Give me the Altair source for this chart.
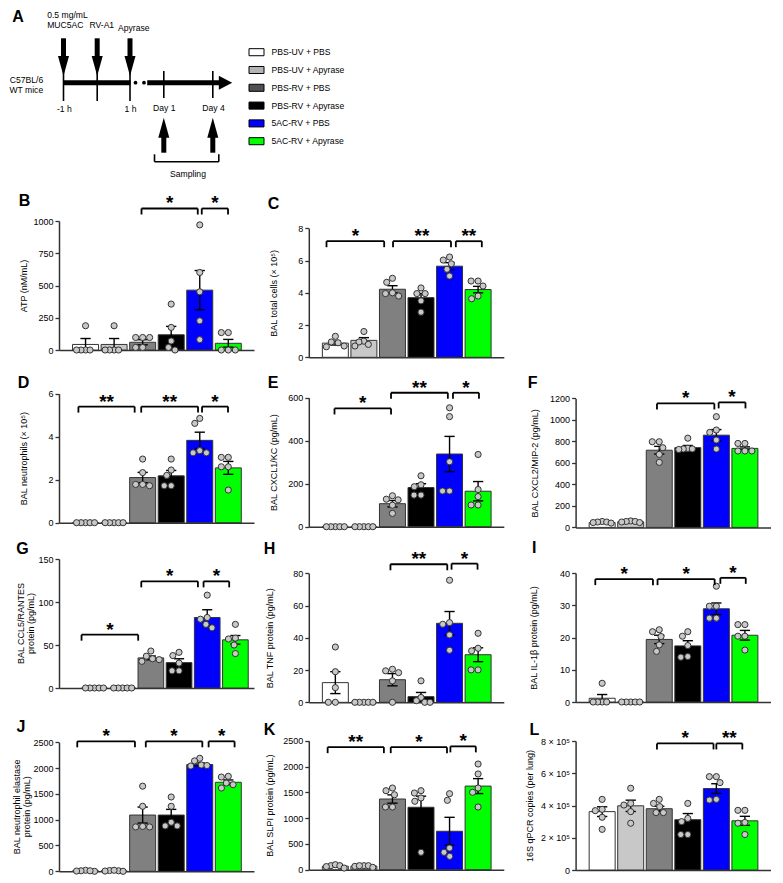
import math
import pandas as pd
import altair as alt

# ------------------------------------------------------------------ data
GROUPS = ["PBS-UV + PBS", "PBS-UV + Apyrase", "PBS-RV + PBS",
          "PBS-RV + Apyrase", "5AC-RV + PBS", "5AC-RV + Apyrase"]

B_MEAN = [43, 43, 60, 118, 464, 52]
B_SEM = [46, 46, 20, 65, 152, 30]
B_POINTS = [[188, 0, 0, 0, 0], [188, 0, 0, 0, 0], [97, 97, 97, 20, 20],
            [356, 175, 70, 0, 20], [970, 601, 451, 226, 80], [135, 135, 0, 0, 0]]
B_TICKS = [0, 250, 500, 750, 1000]
B_STARS = [(1.96, 3.93, 1097, "*"), (4.07, 4.99, 1097, "*")]

C_MEAN = [0.88, 1.05, 4.22, 3.7, 5.65, 4.2]
C_SEM = [0.12, 0.17, 0.22, 0.26, 0.22, 0.2]
C_POINTS = [[1.3, 0.95, 0.9, 0.65, 0.7], [1.6, 1.0, 0.95, 0.8, 0.7],
            [4.9, 4.65, 4.0, 3.95, 3.8], [4.3, 3.95, 3.95, 3.5, 2.8],
            [6.22, 5.8, 6.03, 5.04, 5.46], [4.73, 4.73, 4.42, 3.63, 3.8]]
C_TICKS = [0, 2, 4, 6, 8]
C_STARS = [(-0.31, 1.71, 7.2, "*"), (2.02, 4.05, 7.2, "**"), (4.22, 5.13, 7.2, "**")]

D_MEAN = [0, 0, 2.1, 2.18, 3.83, 2.55]
D_SEM = [0, 0, 0.24, 0.25, 0.38, 0.3]
D_POINTS = [[0, 0, 0, 0, 0], [0, 0, 0, 0, 0], [2.96, 2.33, 1.72, 1.78, 1.78],
            [2.96, 2.2, 2.45, 1.72, 1.72], [4.85, 4.62, 3.35, 3.25, 3.25],
            [3.04, 3.04, 2.6, 2.6, 1.52]]
D_TICKS = [0, 2, 4, 6]
D_STARS = [(-0.25, 1.72, 5.4, "**"), (1.95, 3.94, 5.4, "**"), (4.08, 4.99, 5.4, "*")]

E_MEAN = [0, 0, 107, 182, 338, 165]
E_SEM = [0, 0, 15, 18, 82, 45]
E_POINTS = [[0, 0, 0, 0, 0], [0, 0, 0, 0, 0], [144, 128, 125, 100, 62],
            [237, 186, 195, 147, 147], [553, 512, 302, 166, 166],
            [336, 173, 140, 101, 101]]
E_TICKS = [0, 200, 400, 600]
E_STARS = [(-0.03, 1.95, 550, "*"), (1.95, 3.94, 623, "**"), (4.12, 5.03, 623, "*")]

F_MEAN = [45, 52, 718, 742, 858, 735]
F_SEM = [5, 5, 36, 20, 52, 14]
F_POINTS = [[55, 50, 45, 50, 40], [60, 55, 50, 55, 45], [797, 797, 741, 679, 605],
            [830, 735, 730, 725, 730], [1030, 884, 906, 813, 729],
            [781, 781, 711, 711, 711]]
F_TICKS = [0, 200, 400, 600, 800, 1000, 1200]
F_STARS = [(1.92, 3.93, 1153, "*"), (4.08, 5.02, 1163, "*")]

G_MEAN = [0, 0, 35, 29.5, 82, 56]
G_SEM = [0, 0, 2.2, 4.5, 9, 5]
G_POINTS = [[0, 0, 0, 0, 0], [0, 0, 0, 0, 0], [43, 37, 34, 33, 31],
            [41.5, 37.7, 29, 20, 20], [108, 82, 80, 74, 70], [74, 58, 57, 50, 40]]
G_TICKS = [0, 50, 100, 150]
G_STARS = [(-0.46, 1.55, 62, "*"), (1.66, 3.67, 124, "*"), (3.87, 4.78, 124, "*")]

H_MEAN = [12.2, 0, 14, 3.5, 49, 29.5]
H_SEM = [6.8, 0, 3.8, 2.6, 7.3, 4.3]
H_POINTS = [[34.3, 19, 9.1, 0, 0], [0, 0, 0, 0, 0], [19.5, 20.5, 18.4, 13.3, 0],
            [13.3, 3, 1, 0, 0], [75.7, 48.4, 49.4, 41.8, 32.3],
            [42.8, 31.9, 33.5, 20.1, 20.1]]
H_TICKS = [0, 20, 40, 60, 80]
H_STARS = [(1.93, 3.92, 85.6, "**"), (4.07, 4.98, 86, "*")]

I_MEAN = [1.16, 0, 19.4, 17.4, 28.9, 20.7]
I_SEM = [1.16, 0, 1.3, 1.6, 1.8, 1.5]
I_POINTS = [[5.8, 0, 0, 0, 0], [0, 0, 0, 0, 0], [21.8, 22.4, 20.3, 17.7, 15.7],
            [21.8, 20.4, 17.5, 13.9, 14.1], [35.9, 29.7, 29.7, 26, 26],
            [24, 24, 20.4, 20.4, 16.1]]
I_TICKS = [0, 10, 20, 30, 40]
I_STARS = [(-0.24, 1.78, 38.1, "*"), (1.94, 3.94, 38.1, "*"), (4.14, 5.03, 38.5, "*")]

J_MEAN = [10, 10, 1090, 1090, 2070, 1725]
J_SEM = [4, 4, 155, 110, 30, 45]
J_POINTS = [[20, 10, 0, 10, 5], [15, 5, 10, 0, 20], [1650, 1260, 870, 860, 860],
            [1440, 1260, 950, 880, 880], [2190, 2140, 2060, 2050, 2040],
            [1827, 1841, 1711, 1614, 1678]]
J_TICKS = [0, 500, 1000, 1500, 2000, 2500]
J_STARS = [(-0.29, 1.73, 2519, "*"), (2.11, 4.09, 2519, "*"), (4.31, 5.22, 2519, "*")]

K_MEAN = [68, 70, 1370, 1210, 745, 1620]
K_SEM = [12, 8, 80, 215, 270, 145]
K_POINTS = [[78, 97, 78, 32, 60], [65, 78, 78, 78, 45], [1531, 1583, 1453, 1215, 1215],
            [1486, 1531, 1390, 1326, 337], [1473, 1344, 420, 259, 337],
            [2048, 1855, 1583, 1500, 1215]]
K_TICKS = [0, 500, 1000, 1500, 2000, 2500]
K_STARS = [(-0.27, 1.70, 2375, "**"), (1.94, 3.91, 2375, "*"), (4.03, 4.92, 2390, "*")]

L_MEAN = [3.62e5, 3.98e5, 3.8e5, 3.12e5, 5.05e5, 3.05e5]
L_SEM = [0.3e5, 0.35e5, 0.15e5, 0.38e5, 0.3e5, 0.28e5]
L_POINTS = [[4.38e5, 3.76e5, 3.68e5, 3.27e5, 2.52e5], [5.07e5, 4.03e5, 4.13e5, 3.62e5, 2.9e5],
            [4.38e5, 3.93e5, 3.56e5, 4.13e5, 3.56e5], [4.13e5, 3.2e5, 3.0e5, 2.2e5, 2.2e5],
            [5.79e5, 5.79e5, 5.42e5, 4.34e5, 4.38e5], [3.7e5, 3.7e5, 2.95e5, 2.9e5, 2.2e5]]
L_TICKS = [0, 2e5, 4e5, 6e5, 8e5]
L_STARS = [(1.92, 3.90, 7.85e5, "*"), (4.0, 4.91, 7.85e5, "**")]

# ------------------------------------------------------------------ style / layout
FONT = "Liberation Sans"
SMALL_FONT = 8.6
BAR_FILLS = ["#ffffff", "#c8c8c8", "#808080", "#000000", "#0000ff", "#00ff00"]
LEGEND_FILLS = ["#ffffff", "#b4b4b4", "#505050", "#000000", "#0000ff", "#00ff00"]
POINT_FILL = "#c8c8c8"
INK = "#333333"

PLOT_W, PLOT_H = 195, 129
X_DOMAIN = (-0.93, 5.9)
BAR_HALF, CAP_HALF = 0.455, 0.18
COL_LEFT = [58.5, 308.3, 574.5]
ROW_TOP = [20, 220, 366.3, 535.7, 710]
ROW_GAP = 10
COL_GAP = COL_LEFT[1] - COL_LEFT[0] - PLOT_W
COL1_W = COL_LEFT[2] - COL_LEFT[1] - COL_GAP
A_H = ROW_TOP[1] - ROW_TOP[0] - ROW_GAP
TITLE_LINE_GAP = 10

PANELS = [
    dict(key="B", title="ATP (nM/mL)", mean=B_MEAN, sem=B_SEM, pts=B_POINTS, ticks=B_TICKS,
         stars=B_STARS, row=1, col=0, top=220, letter=(18.3, 200.3), title_x=22.7),
    dict(key="C", title="BAL total cells (× 10⁵)", mean=C_MEAN, sem=C_SEM, pts=C_POINTS,
         ticks=C_TICKS, stars=C_STARS, row=1, col=1, top=227.3, letter=(267.3, 202.5), title_x=273.3),
    dict(key="D", title="BAL neutrophils (× 10⁵)", mean=D_MEAN, sem=D_SEM, pts=D_POINTS,
         ticks=D_TICKS, stars=D_STARS, row=2, col=0, top=392, letter=(17.3, 381.3), title_x=22.7),
    dict(key="E", title="BAL CXCL1/KC (pg/mL)", mean=E_MEAN, sem=E_SEM, pts=E_POINTS,
         ticks=E_TICKS, stars=E_STARS, row=2, col=1, top=396, letter=(267.3, 381.3), title_x=273.3),
    dict(key="F", title="BAL CXCL2/MIP-2 (pg/mL)", mean=F_MEAN, sem=F_SEM, pts=F_POINTS,
         ticks=F_TICKS, stars=F_STARS, row=2, col=2, top=396.7, letter=(526.7, 381.7), title_x=533.3),
    dict(key="G", title=["BAL CCL5/RANTES", "protein (pg/mL)"], mean=G_MEAN, sem=G_SEM,
         pts=G_POINTS, ticks=G_TICKS, stars=G_STARS, row=3, col=0, top=556.7,
         letter=(15.7, 546.7), title_x=25, xdom=(-1.26, 5.66)),
    dict(key="H", title="BAL TNF protein (pg/mL)", mean=H_MEAN, sem=H_SEM, pts=H_POINTS,
         ticks=H_TICKS, stars=H_STARS, row=3, col=1, top=571, letter=(263.3, 546.7), title_x=269.3),
    dict(key="I", title="BAL IL-1β protein (pg/mL)", mean=I_MEAN, sem=I_SEM, pts=I_POINTS,
         ticks=I_TICKS, stars=I_STARS, row=3, col=2, top=570.7, letter=(531, 545.5), title_x=532.3),
    dict(key="J", title=["BAL neutrophil elastase", "protein (pg/mL)"], mean=J_MEAN, sem=J_SEM,
         pts=J_POINTS, ticks=J_TICKS, stars=J_STARS, row=4, col=0, top=739.3,
         letter=(16, 724.3), title_x=21.7),
    dict(key="K", title="BAL SLPI protein (pg/mL)", mean=K_MEAN, sem=K_SEM, pts=K_POINTS,
         ticks=K_TICKS, stars=K_STARS, row=4, col=1, top=737.7, letter=(263.3, 726.7), title_x=269.3),
    dict(key="L", title="16S qPCR copies (per lung)", mean=L_MEAN, sem=L_SEM, pts=L_POINTS,
         ticks=L_TICKS, stars=L_STARS, row=4, col=2, top=738, letter=(528.3, 726.7), title_x=528.3,
         label_expr="datum.value == 0 ? '0' : (datum.value / 100000) + ' × 10⁵'"),
]


def swarm_offsets(vals, ppu, d=7.0, lim=9.0):
    """Beeswarm: horizontal pixel offsets so that points of a group do not overlap."""
    n = len(vals)
    order = sorted(range(n), key=lambda k: -vals[k])
    placed, offs = [], [0.0] * n
    for k in order:
        y = vals[k] * ppu
        cands = [0.0]
        for py, px in placed:
            dy = y - py
            if abs(dy) < d:
                h = math.sqrt(d * d - dy * dy)
                cands += [px - h, px + h]
        cands.sort(key=lambda c: (abs(c), c))
        chosen = cands[-1]
        for c in cands:
            if all((c - px) ** 2 + (y - py) ** 2 >= d * d - 1e-6 for py, px in placed):
                chosen = c
                break
        offs[k] = chosen
        placed.append((y, chosen))
    m = max(abs(o) for o in offs)
    if m > lim:
        offs = [o * lim / m for o in offs]
    return offs


def make_panel(p):
    xmin, xmax = p.get("xdom", X_DOMAIN)
    step = PLOT_W / (xmax - xmin)
    ymax = p["ticks"][-1]
    ppu = PLOT_H / ymax
    off = p["top"] - ROW_TOP[p["row"]]
    H = off + PLOT_H
    col_left = COL_LEFT[p["col"]]
    xs = alt.Scale(domain=[xmin, xmax], nice=False, zero=False)
    ys = alt.Scale(domain=[0, ymax], nice=False, zero=False, range=[H, off])

    bars = pd.DataFrame({"i": list(range(6)), "group": GROUPS, "mean": p["mean"],
                         "sem": p["sem"], "fill": BAR_FILLS})
    bars["x1"] = bars["i"] - BAR_HALF
    bars["x2"] = bars["i"] + BAR_HALF
    bars["zero"] = 0.0
    bars["lo"] = bars["mean"] - bars["sem"]
    bars["hi"] = bars["mean"] + bars["sem"]
    err = bars[bars["sem"] > 0].copy()
    caps = pd.concat([
        pd.DataFrame({"cl": err["i"] - CAP_HALF, "cr": err["i"] + CAP_HALF, "cy": err["hi"]}),
        pd.DataFrame({"cl": err["i"] - CAP_HALF, "cr": err["i"] + CAP_HALF, "cy": err["lo"]}),
    ])

    rows = []
    for i, vals in enumerate(p["pts"]):
        offs = swarm_offsets(vals, ppu)
        for v, o in zip(vals, offs):
            rows.append({"x": i + o / step, "v": v})
    pts = pd.DataFrame(rows)

    st = pd.DataFrame(p["stars"], columns=["xs", "xe", "lvl", "lab"])
    st["xm"] = (st["xs"] + st["xe"]) / 2
    ends = pd.DataFrame({"x": list(st["xs"]) + list(st["xe"]), "lvl": list(st["lvl"]) * 2})

    multi = isinstance(p["title"], list)
    yaxis_kw = dict(values=p["ticks"], grid=False, domainColor=INK,
                    domainWidth=1.5, tickColor=INK, tickWidth=1.3, tickSize=4,
                    labelFont=FONT, labelFontSize=9, labelColor="black", labelPadding=2,
                    titleFont=FONT, titleFontSize=9, titleFontWeight="normal",
                    titleColor="black", titleAngle=270, titleBaseline="middle",
                    titleAlign="center", titleX=p["title_x"] - col_left)
    yaxis_kw["title"] = None if multi else p["title"]
    if "label_expr" in p:
        yaxis_kw["labelExpr"] = p["label_expr"]
    else:
        yaxis_kw["format"] = "d"
    yaxis = alt.Axis(**yaxis_kw)
    xaxis = alt.Axis(title=None, labels=False, ticks=False, grid=False, domainColor=INK,
                     domainWidth=1.5)

    def X(f):
        return alt.X(f, scale=xs, axis=xaxis)

    def Y(f):
        return alt.Y(f, scale=ys, axis=yaxis)

    bar_c = alt.Chart(bars).mark_bar(stroke=INK, strokeWidth=1).encode(
        x=X("x1:Q"), x2="x2:Q", y=Y("mean:Q"), y2="zero:Q",
        fill=alt.Fill("fill:N", scale=None))
    err_c = alt.Chart(err).mark_rule(color="black", strokeWidth=1.4).encode(
        x=X("i:Q"), y=Y("lo:Q"), y2="hi:Q")
    cap_c = alt.Chart(caps).mark_rule(color="black", strokeWidth=1.4).encode(
        x=X("cl:Q"), x2="cr:Q", y=Y("cy:Q"))
    pts_c = alt.Chart(pts).mark_circle(fill=POINT_FILL, stroke=INK, strokeWidth=1,
                                       size=38, opacity=1).encode(x=X("x:Q"), y=Y("v:Q"))
    br_c = alt.Chart(st).mark_rule(color="black", strokeWidth=1.8).encode(
        x=X("xs:Q"), x2="xe:Q", y=Y("lvl:Q"))
    brt_c = alt.Chart(ends).mark_rule(color="black", strokeWidth=1.8, y2Offset=6).encode(
        x=X("x:Q"), y=Y("lvl:Q"), y2="lvl:Q")
    txt_c = alt.Chart(st).mark_text(font=FONT, fontSize=19, fontWeight="bold",
                                    baseline="alphabetic", dy=1, color="black").encode(
        x=X("xm:Q"), y=Y("lvl:Q"), text="lab:N")
    lx, ly = p["letter"]
    let_c = alt.Chart(pd.DataFrame({"t": [p["key"]]})).mark_text(
        font=FONT, fontSize=16, fontWeight="bold", align="left", baseline="middle",
        color="black").encode(x=alt.value(lx - col_left),
                              y=alt.value(ly - ROW_TOP[p["row"]]), text="t:N")
    layers = [bar_c, err_c, cap_c, pts_c, br_c, brt_c, txt_c, let_c]
    if multi:
        n = len(p["title"])
        for k, line in enumerate(p["title"]):
            cx = p["title_x"] + (k - (n - 1) / 2) * TITLE_LINE_GAP - col_left
            layers.append(alt.Chart(pd.DataFrame({"t": [line]})).mark_text(
                font=FONT, fontSize=9, angle=270, align="center", baseline="middle",
                color="black").encode(x=alt.value(cx), y=alt.value(off + PLOT_H / 2),
                                      text="t:N"))
    return alt.layer(*layers).properties(width=PLOT_W, height=H)


# ------------------------------------------------------------------ panel A schematic
# schematic coordinates (x, x2, y, y2) in the figure's own layout space
THICK_LINES = [(63, 130, 81.7, 81.7), (146.7, 219, 81.7, 81.7),
               (63, 63, 37.3, 56), (96.7, 96.7, 37.3, 56), (129.5, 129.5, 37.3, 56),
               (163.3, 163.3, 136, 151.7), (212.3, 212.3, 136, 151.7)]
THIN_LINES = [(63, 63, 70, 100), (96.7, 96.7, 70, 100), (129.5, 129.5, 70, 100),
              (163.3, 163.3, 70, 97), (212.3, 212.3, 70, 97),
              (154, 218.3, 160.7, 160.7), (154, 154, 153.3, 160.7), (218.3, 218.3, 153.3, 160.7)]
DOWN_HEAD = "M-1,-1.818L1,-1.818L0,1.818Z"
UP_HEAD = "M-1,1.818L1,1.818L0,-1.818Z"
RIGHT_HEAD = "M-1,-1.045L1,0L-1,1.045Z"
HEADS = [(63, 65, DOWN_HEAD, 121), (96.7, 65, DOWN_HEAD, 121), (129.5, 65, DOWN_HEAD, 121),
         (163.3, 126.7, UP_HEAD, 121), (212.3, 126.7, UP_HEAD, 121),
         (225, 81.7, RIGHT_HEAD, 180)]
DOTS = [(135, 81.7), (143.5, 81.7)]
TEXT_LEFT = [("0.5 mg/mL", 46.7, 14), ("MUC5AC", 46.7, 24.3)]
TEXT_CENTER = [("RV-A1", 101.3, 24.3), ("Apyrase", 133.3, 26.7), ("-1 h", 63.8, 108.3),
               ("1 h", 130, 108.3), ("Day 1", 163.7, 106.7), ("Day 4", 213, 106.7),
               ("Sampling", 187.5, 173.3)]
TEXT_RIGHT = [("C57BL/6", 42.7, 78.7), ("WT mice", 42.7, 88.7)]
LEGEND_POS = (248, 43.2)   # top-left of the legend
ANCHOR = (8, 8)            # top-left corner of the figure

ax = alt.Scale(domain=[COL_LEFT[0], COL_LEFT[0] + PLOT_W], nice=False, zero=False)
ay = alt.Scale(domain=[ROW_TOP[0], ROW_TOP[0] + A_H], nice=False, zero=False, reverse=True)


def AX(f):
    return alt.X(f, scale=ax, axis=None)


def AY(f):
    return alt.Y(f, scale=ay, axis=None)


def lines_df(rows):
    return pd.DataFrame(rows, columns=["x", "x2", "y", "y2"])


a_thick = alt.Chart(lines_df(THICK_LINES)).mark_rule(color="black", strokeWidth=5).encode(
    x=AX("x:Q"), x2="x2:Q", y=AY("y:Q"), y2="y2:Q")
a_thin = alt.Chart(lines_df(THIN_LINES)).mark_rule(color="black", strokeWidth=1.6).encode(
    x=AX("x:Q"), x2="x2:Q", y=AY("y:Q"), y2="y2:Q")
a_heads = alt.Chart(pd.DataFrame(HEADS, columns=["x", "y", "path", "sz"])).mark_point(
    filled=True, color="black", opacity=1, strokeWidth=0).encode(
    x=AX("x:Q"), y=AY("y:Q"), shape=alt.Shape("path:N", scale=None),
    size=alt.Size("sz:Q", scale=None))
a_dots = alt.Chart(pd.DataFrame(DOTS, columns=["x", "y"])).mark_circle(
    color="black", size=14, opacity=1).encode(x=AX("x:Q"), y=AY("y:Q"))


def text_layer(rows, align):
    return alt.Chart(pd.DataFrame(rows, columns=["t", "x", "y"])).mark_text(
        font=FONT, fontSize=SMALL_FONT, align=align, baseline="middle", color="black").encode(
        x=AX("x:Q"), y=AY("y:Q"), text="t:N")


a_letter = alt.Chart(pd.DataFrame({"t": ["A"], "x": [11.7], "y": [15.8]})).mark_text(
    font=FONT, fontSize=16, fontWeight="bold", align="left", baseline="middle",
    color="black").encode(x=AX("x:Q"), y=AY("y:Q"), text="t:N")

a_legend = alt.Chart(pd.DataFrame({"group": GROUPS, "x": [100.0] * 6, "y": [100.0] * 6})).mark_square(
    opacity=0, size=10).encode(
    x=AX("x:Q"), y=AY("y:Q"),
    color=alt.Color("group:N", sort=GROUPS,
                    scale=alt.Scale(domain=GROUPS, range=LEGEND_FILLS),
                    legend=alt.Legend(title=None, orient="none",
                                      legendX=LEGEND_POS[0] - COL_LEFT[0],
                                      legendY=LEGEND_POS[1] - ROW_TOP[0],
                                      symbolType="M-1,-0.47L1,-0.47L1,0.47L-1,0.47Z",
                                      symbolSize=225, symbolStrokeColor="black",
                                      symbolStrokeWidth=1, symbolOpacity=1,
                                      labelFont=FONT, labelFontSize=SMALL_FONT,
                                      labelColor="black", labelOffset=7,
                                      rowPadding=3.8, padding=0, offset=0)))

a_anchor = alt.Chart(pd.DataFrame({"x": [ANCHOR[0]], "y": [ANCHOR[1]]})).mark_rule(
    opacity=0).encode(x=AX("x:Q"), x2="x:Q", y=AY("y:Q"), y2="y:Q")

panel_a = alt.layer(a_thick, a_thin, a_heads, a_dots,
                    text_layer(TEXT_LEFT, "left"), text_layer(TEXT_CENTER, "center"),
                    text_layer(TEXT_RIGHT, "right"), a_letter, a_legend, a_anchor).properties(
    width=PLOT_W, height=A_H)


def spacer(w):
    return alt.Chart(pd.DataFrame({"d": [0]})).mark_point(opacity=0).encode(
        x=alt.value(0), y=alt.value(0)).properties(width=w, height=1)


P = {p["key"]: make_panel(p) for p in PANELS}
cells = [panel_a, spacer(COL1_W), spacer(PLOT_W),
         P["B"], P["C"], spacer(PLOT_W),
         P["D"], P["E"], P["F"],
         P["G"], P["H"], P["I"],
         P["J"], P["K"], P["L"]]

chart = alt.concat(*cells, columns=3, bounds="flush", align="each",
                   spacing={"row": ROW_GAP, "column": COL_GAP}, padding=0).configure(
    font=FONT, view=alt.ViewConfig(stroke="transparent", strokeWidth=0))

chart.save("out.html", embed_options={"renderer": "svg", "actions": False})
